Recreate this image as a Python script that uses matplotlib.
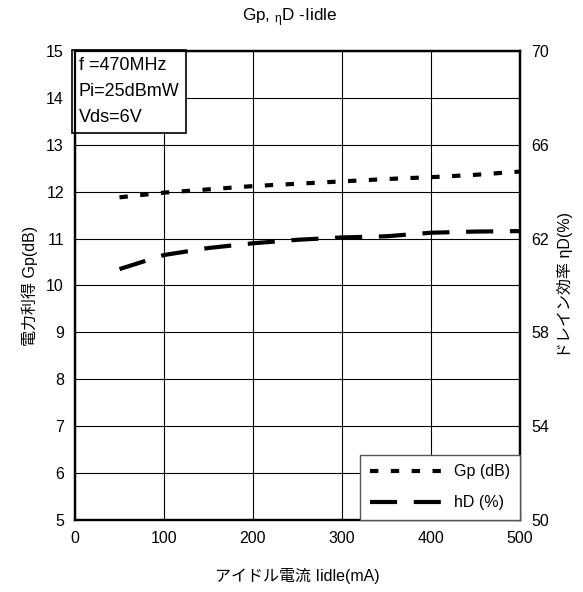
import numpy as np
import matplotlib
matplotlib.use("Agg")
import matplotlib.pyplot as plt

plt.rcParams['font.family'] = ['Liberation Sans', 'Noto Sans CJK JP', 'DejaVu Sans']
plt.rcParams['mathtext.fontset'] = 'custom'
plt.rcParams['mathtext.rm'] = 'Liberation Sans'
plt.rcParams['mathtext.it'] = 'Liberation Sans'

# data
idle = [50, 100, 150, 200, 250, 300, 350, 400, 450, 500]
gp_db = [11.88, 11.98, 12.05, 12.12, 12.17, 12.22, 12.27, 12.31, 12.36, 12.43]
eta_d = [60.7, 61.3, 61.6, 61.8, 61.95, 62.05, 62.1, 62.25, 62.3, 62.32]

x_ticks = [0, 100, 200, 300, 400, 500]
gp_ticks = list(range(5, 16))
eta_ticks = [50, 54, 58, 62, 66, 70]

fig = plt.figure(figsize=(5.83, 5.92), dpi=100)
ax = fig.add_axes([75 / 583, 1 - 520 / 592, 445 / 583, 469 / 592])
ax2 = ax.twinx()

ax.set_xlim(0, 500)
ax.set_ylim(5, 15)
ax2.set_ylim(50, 70)
ax.set_xticks(x_ticks)
ax.set_yticks(gp_ticks)
ax2.set_yticks(eta_ticks)
ax.grid(True, color='black', linewidth=0.8)
ax.tick_params(length=0, labelsize=11.5, pad=8)
ax2.tick_params(length=0, labelsize=11.5, pad=8)
for a in (ax, ax2):
    for s in a.spines.values():
        s.set_linewidth(1.6)

l1, = ax.plot(idle, gp_db, color='black', lw=3, dashes=(2, 3),
              dash_capstyle='butt', label='Gp (dB)')
l2, = ax2.plot(idle, eta_d, color='black', lw=3, dashes=(6.5, 4),
               dash_capstyle='butt', label='hD (%)')

fig.text(0.497, 0.964, r'Gp, $_{\eta}$D -Iidle', ha='center', va='baseline', fontsize=12.3)

ax.set_xlabel('アイドル電流 Iidle(mA)', fontsize=11.5, labelpad=16)
ax.set_ylabel('電力利得 Gp(dB)', fontsize=11.5, labelpad=6)
ax2.set_ylabel('ドレイン効率 ηD(%)', fontsize=11.5, labelpad=6)

ax.text(0.008, 0.988, 'f =470MHz\nPi=25dBmW\nVds=6V', transform=ax.transAxes,
        ha='left', va='top', fontsize=13, linespacing=1.72, zorder=5,
        bbox=dict(boxstyle='square,pad=0.35', facecolor='white',
                  edgecolor='black', linewidth=1.2))

leg = ax2.legend(handles=[l1, l2], loc='lower right', fontsize=11.5,
                 fancybox=False, framealpha=1, edgecolor='#555555',
                 borderaxespad=0, handlelength=5.0, labelspacing=1.0,
                 handletextpad=0.3, borderpad=0.6)
leg.get_frame().set_linewidth(1.0)

fig.savefig('out.png', dpi=100)
